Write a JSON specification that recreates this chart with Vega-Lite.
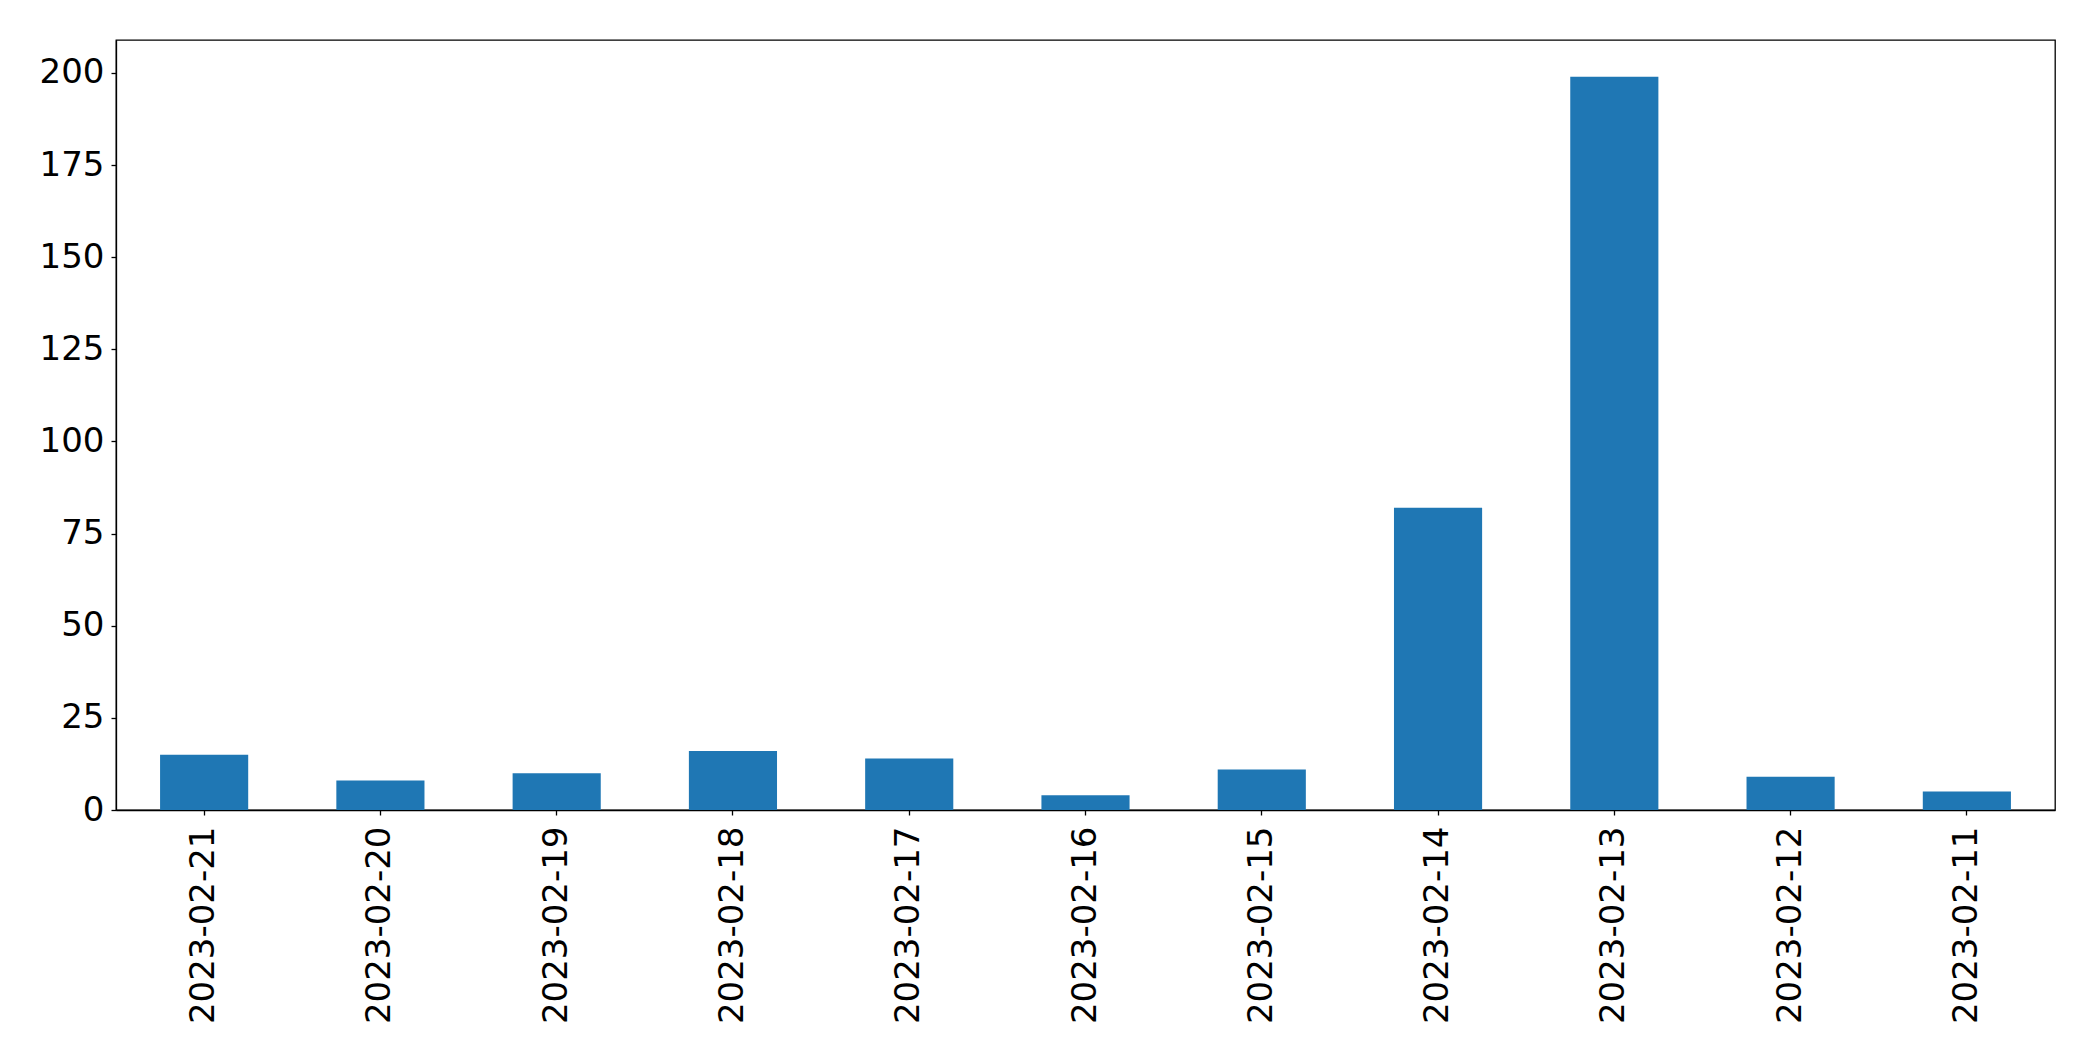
{
  "$schema": "https://vega.github.io/schema/vega-lite/v6.json",
  "width": 1939,
  "height": 770,
  "autosize": "none",
  "padding": {"left": 116, "top": 40, "right": 38, "bottom": 251},
  "background": "white",
  "config": {
    "view": {"stroke": "black", "strokeWidth": 1.3},
    "axis": {
      "labelFont": "DejaVu Sans",
      "labelFontSize": 34,
      "labelColor": "black",
      "labelLimit": 1000,
      "domainColor": "black",
      "domainWidth": 1.3,
      "tickColor": "black",
      "tickWidth": 1.3,
      "tickSize": 5,
      "grid": false,
      "title": null
    }
  },
  "data": {
    "values": [
      {"date": "2023-02-21", "count": 15},
      {"date": "2023-02-20", "count": 8},
      {"date": "2023-02-19", "count": 10},
      {"date": "2023-02-18", "count": 16},
      {"date": "2023-02-17", "count": 14},
      {"date": "2023-02-16", "count": 4},
      {"date": "2023-02-15", "count": 11},
      {"date": "2023-02-14", "count": 82},
      {"date": "2023-02-13", "count": 199},
      {"date": "2023-02-12", "count": 9},
      {"date": "2023-02-11", "count": 5}
    ]
  },
  "mark": {"type": "bar", "color": "#1f77b4"},
  "encoding": {
    "x": {
      "field": "date",
      "type": "nominal",
      "sort": null,
      "scale": {"paddingInner": 0.5, "paddingOuter": 0.25},
      "axis": {"labelAngle": -90, "labelPadding": 11, "labelAlign": "right", "labelBaseline": "middle"}
    },
    "y": {
      "field": "count",
      "type": "quantitative",
      "scale": {"domain": [0, 208.95], "nice": false},
      "axis": {"values": [0, 25, 50, 75, 100, 125, 150, 175, 200], "labelPadding": 7}
    }
  }
}
